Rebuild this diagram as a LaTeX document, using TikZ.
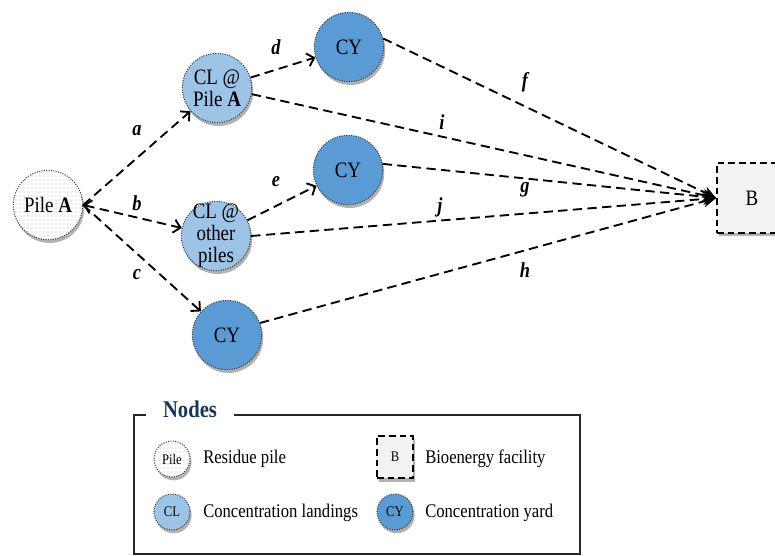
\documentclass[tikz,border=0pt]{standalone}
\usepackage{fontspec}
\setmainfont{Liberation Serif}[FakeStretch=0.86]
\usetikzlibrary{arrows.meta,shadows,patterns}
\definecolor{clblue}{HTML}{9DC3E6}
\definecolor{cyblue}{HTML}{5B9BD5}
\definecolor{bgray}{HTML}{F2F2F2}
\definecolor{navy}{HTML}{17365D}
\definecolor{rim}{HTML}{404040}

\begin{document}
\begin{tikzpicture}[x=0.75pt,y=-0.75pt,
  >={Straight Barb[length=5pt,width=10pt]},
  castshadow/.style={drop shadow={shadow xshift=1.2pt,shadow yshift=-2.5pt,opacity=0.3,fill=black}},
  bignode/.style={circle,draw=rim,densely dotted,line width=0.8pt,inner sep=0pt,minimum size=52pt,
    align=center,font=\fontsize{16.5}{16.5}\selectfont,castshadow},
  pilenode/.style={bignode,fill=white,postaction={pattern=dots,pattern color=black!30}},
  clnode/.style={bignode,fill=clblue},
  cynode/.style={bignode,fill=cyblue},
  plant/.style={rectangle,draw=black,dash pattern=on 5pt off 3pt,line width=1.3pt,fill=bgray,
    minimum size=52.5pt,font=\fontsize{16.5}{16.5}\selectfont,castshadow},
  flow/.style={dash pattern=on 7pt off 4pt,line width=1.4pt,->},
  tobio/.style={dash pattern=on 7pt off 4pt,line width=1.4pt,-{Stealth[length=10pt,width=9pt]}},
  lbl/.style={inner sep=0pt,font=\fontsize{16}{16}\bfseries\itshape\selectfont},
  keysmall/.style={minimum size=27pt,font=\fontsize{11}{11}\selectfont},
  keytext/.style={anchor=west,inner sep=0pt,font=\fontsize{14.5}{15}\selectfont}]
  \useasboundingbox (0,0) rectangle (775,556);

  \node[pilenode] (pileA) at (48,205) {Pile \textbf{A}};
  \node[clnode] (clA) at (217,88) {CL @\\Pile \textbf{A}};
  \node[clnode,inner sep=-3pt] (clO) at (216,236) {CL @\\other\\piles};
  \node[cynode] (cy1) at (349,47) {CY};
  \node[cynode] (cy2) at (348,170) {CY};
  \node[cynode] (cy3) at (227,335) {CY};
  \node[plant] (bio) at (752,198) {B};

  \draw[flow] (pileA.east) -- (clA);
  \draw[flow,<->] (pileA.east) -- (clO);
  \draw[flow] (pileA.east) -- (cy3);
  \draw[flow] (clA) -- (cy1);
  \draw[flow] (clO) -- (cy2);
  \draw[tobio] (cy1.14) -- (bio.west);
  \draw[tobio] (clA.-10) -- (bio.west);
  \draw[tobio] (cy2.10) -- (bio.west);
  \draw[tobio] (clO.east) -- (bio.west);
  \draw[tobio] (cy3.20) -- (bio.west);

  \node[lbl] (la) at (137,131) {a};
  \node[lbl] (lb) at (137,203) {b};
  \node[lbl] (lc) at (137,275) {c};
  \node[lbl] (ld) at (276,47) {d};
  \node[lbl] (le) at (276,182) {e};
  \node[lbl] (lf) at (525,82) {f};
  \node[lbl] (lg) at (525,190) {g};
  \node[lbl] (lh) at (525,270) {h};
  \node[lbl] (li) at (442,122) {i};
  \node[lbl] (lj) at (440,207) {j};

  \draw[line width=1.2pt,draw=black!85] (134,415) rectangle (580,554);
  \node[fill=white,inner xsep=13pt,inner ysep=2pt,text=navy,
    font=\fontsize{18}{18}\bfseries\selectfont] (keyttl) at (190,409) {Nodes};

  \node[pilenode,keysmall] (kpile) at (172,459) {Pile};
  \node[keytext] (tpile) at (203,459) {Residue pile};
  \node[plant,minimum width=27pt,minimum height=32pt,font=\fontsize{11}{11}\selectfont] (kbio) at (395,457) {B};
  \node[keytext] (tbio) at (425,459) {Bioenergy facility};
  \node[clnode,keysmall] (kcl) at (172,512) {CL};
  \node[keytext] (tcl) at (203,513) {Concentration landings};
  \node[cynode,keysmall] (kcy) at (395,512) {CY};
  \node[keytext] (tcy) at (425,513) {Concentration yard};
\end{tikzpicture}
\end{document}
